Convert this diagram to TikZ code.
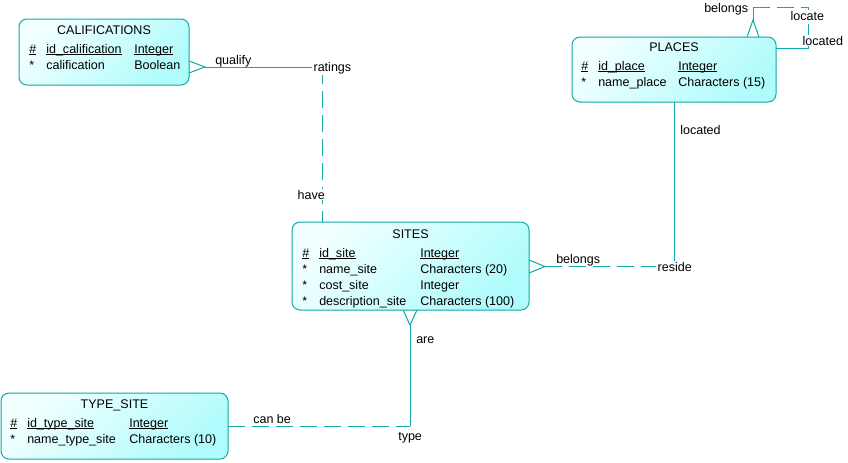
\documentclass[tikz,border=0pt]{standalone}
\usepackage{fontspec}
\setmainfont{Liberation Sans}
\usetikzlibrary{calc}
\definecolor{edge}{HTML}{10A8A8}
\definecolor{fillA}{HTML}{F2FFFF}
\definecolor{fillB}{HTML}{B0FCFC}
\newsavebox\ulbox
\newcommand\myul[1]{\sbox\ulbox{#1}\rlap{\usebox\ulbox}\rule[-1.4pt]{\wd\ulbox}{0.6pt}}
\begin{document}
\begin{tikzpicture}[x=0.75pt,y=-0.75pt,
 entity/.style={draw=edge, line width=0.75pt, rounded corners=6pt, anchor=north west, inner sep=0pt, outer sep=0pt, top color=fillA, bottom color=fillB, shading angle=45},
 txt/.style={anchor=base west, inner sep=0pt, font=\fontsize{9.4}{11}\selectfont},
 ttl/.style={anchor=base, inner sep=0pt, font=\fontsize{9.4}{11}\selectfont},
 lbl/.style={anchor=base west, inner sep=0pt, font=\fontsize{9.4}{11}\selectfont},
 lblw/.style={lbl, fill=white, inner sep=1pt},
 rel/.style={draw=edge, line width=0.75pt},
 reldash/.style={rel, dash pattern=on 13pt off 5pt},
]
\useasboundingbox (0,0) rectangle (848,462);
\fill[white] (0,0) rectangle (848,462);

% entities
\node[entity, minimum width=127.5pt, minimum height=49.5pt] (cal) at (19,19) {};
\node[entity, minimum width=153pt, minimum height=48.75pt] (pla) at (572,37) {};
\node[entity, minimum width=177.75pt, minimum height=66pt] (sit) at (292,222) {};
\node[entity, minimum width=170.25pt, minimum height=49.5pt] (typ) at (1,393) {};

% titles
\node[ttl] (calT) at (104,34) {CALIFICATIONS};
\node[ttl] (plaT) at (674,51) {PLACES};
\node[ttl] (sitT) at (410.5,238) {SITES};
\node[ttl] (typT) at (114.5,408) {TYPE\_SITE};

% CALIFICATIONS rows
\node[txt] (c11) at (29,53) {\myul{\#}};
\node[txt] (c12) at (46,53) {\myul{id\_calification}};
\node[txt] (c13) at (134,53) {\myul{Integer}};
\node[txt] (c21) at (29,69) {*};
\node[txt] (c22) at (46,69) {calification};
\node[txt] (c23) at (134,69) {Boolean};

% PLACES rows
\node[txt] (p11) at (581,70) {\myul{\#}};
\node[txt] (p12) at (598,70) {\myul{id\_place}};
\node[txt] (p13) at (678,70) {\myul{Integer}};
\node[txt] (p21) at (581,86) {*};
\node[txt] (p22) at (598,86) {name\_place};
\node[txt] (p23) at (678,86) {Characters (15)};

% SITES rows
\node[txt] (s11) at (302,257) {\myul{\#}};
\node[txt] (s12) at (319,257) {\myul{id\_site}};
\node[txt] (s13) at (420,257) {\myul{Integer}};
\node[txt] (s21) at (302,273) {*};
\node[txt] (s22) at (319,273) {name\_site};
\node[txt] (s23) at (420,273) {Characters (20)};
\node[txt] (s31) at (302,289) {*};
\node[txt] (s32) at (319,289) {cost\_site};
\node[txt] (s33) at (420,289) {Integer};
\node[txt] (s41) at (302,305) {*};
\node[txt] (s42) at (319,305) {description\_site};
\node[txt] (s43) at (420,305) {Characters (100)};

% TYPE_SITE rows
\node[txt] (t11) at (10,427) {\myul{\#}};
\node[txt] (t12) at (27,427) {\myul{id\_type\_site}};
\node[txt] (t13) at (129,427) {\myul{Integer}};
\node[txt] (t21) at (10,443) {*};
\node[txt] (t22) at (27,443) {name\_type\_site};
\node[txt] (t23) at (129,443) {Characters (10)};

% CALIFICATIONS - SITES
\coordinate (calX) at (205,67);
\coordinate (ratC) at (322,67);
\coordinate (calY1) at (0,61);
\coordinate (calY2) at (0,73);
\draw[rel] (cal.east |- calY1) -- (calX) -- (cal.east |- calY2);
\draw[rel] (calX) -- (ratC);
\draw[reldash] (ratC) -- (sit.north -| ratC);

% SITES - PLACES
\coordinate (sitX) at (545,266.5);
\coordinate (resC) at (674,266.5);
\coordinate (sitY1) at (0,260);
\coordinate (sitY2) at (0,273);
\draw[rel] (sit.east |- sitY1) -- (sitX) -- (sit.east |- sitY2);
\draw[reldash] (sitX) -- (resC);
\draw[rel] (resC) -- (pla.south -| resC);

% SITES - TYPE_SITE
\coordinate (areX) at (410,325);
\coordinate (typC) at (410,426);
\coordinate (areX1) at (403,0);
\coordinate (areX2) at (417,0);
\draw[rel] (sit.south -| areX1) -- (areX) -- (sit.south -| areX2);
\draw[rel] (areX) -- (typC);
\draw[reldash] (typ.east |- typC) -- (typC);

% PLACES self relationship
\coordinate (plaX) at (753,20);
\coordinate (selfA) at (753,7);
\coordinate (selfB) at (808,7);
\coordinate (selfC) at (808,48);
\coordinate (plaX1) at (747,0);
\coordinate (plaX2) at (759,0);
\draw[rel] (pla.north -| plaX1) -- (plaX) -- (pla.north -| plaX2);
\draw[rel] (plaX) -- (selfA);
\draw[reldash] (selfA) -- (selfB) -- ($(selfB)!0.7!(selfC)$);
\draw[rel] ($(selfB)!0.7!(selfC)$) -- (selfC) -- (pla.east |- selfC);

% labels
\node[lbl] (qualify) at (215,64) {qualify};
\node[lblw] (ratings) at (312,71) {ratings};
\node[lblw] (have) at (296,199) {have};
\node[lbl] (belS) at (556,263) {belongs};
\node[lblw] (reside) at (656,271.5) {reside};
\node[lbl] (locP) at (680,134) {located};
\node[lbl] (are) at (416,343) {are};
\node[lbl] (canbe) at (253,423) {can be};
\node[lbl] (type) at (398,440) {type};
\node[lbl] (belT) at (704,12) {belongs};
\node[lblw] (locate) at (789,20) {locate};
\node[lblw] (locd) at (801,45) {located};
\end{tikzpicture}
\end{document}
